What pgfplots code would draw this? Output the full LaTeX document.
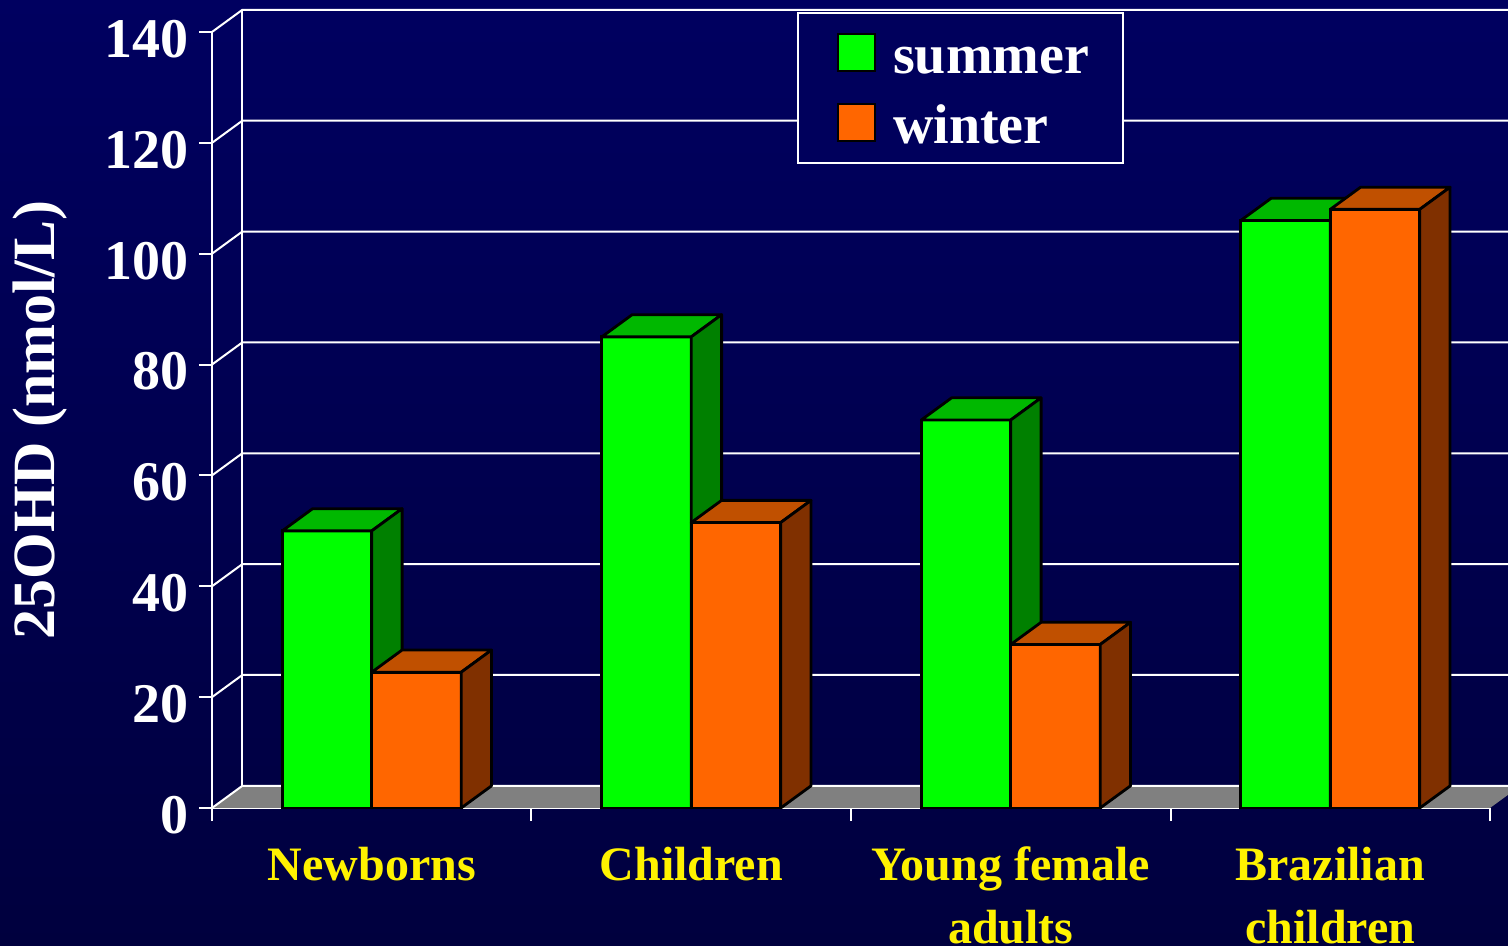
\documentclass[border=0pt]{standalone}
\usepackage{fontspec}
\setmainfont{Liberation Serif}
\usepackage{pgfplots}
\usepackage{pgfplotstable}
\pgfplotsset{compat=1.18}

\definecolor{bgtop}{RGB}{0,0,96}
\definecolor{bgmid}{RGB}{0,0,90}
\definecolor{bgbot}{RGB}{0,0,62}
\definecolor{navy}{RGB}{0,0,92}
\definecolor{gfront}{RGB}{0,255,0}
\definecolor{gtop}{RGB}{0,184,0}
\definecolor{gside}{RGB}{0,128,0}
\definecolor{ofront}{RGB}{255,102,0}
\definecolor{otop}{RGB}{192,80,0}
\definecolor{oside}{RGB}{128,48,0}
\definecolor{floorgray}{RGB}{128,128,128}

\pgfplotstableread{
x   summer winter
0.5 50     24.5
1.5 85     51.5
2.5 70     29.5
3.5 106    108
}\datatable

\def\bw{0.28}
\def\dx{0.095}
\def\dy{4}
\pgfmathsetmacro\xr{4+\dx}

% top and side faces of one series, values taken from the table
\newcommand\barfaces[4]{%
  \pgfplotsforeachungrouped \i in {0,1,2,3}{%
    \pgfplotstablegetelem{\i}{#1}\of\datatable
    \let\v\pgfplotsretval
    \pgfmathsetmacro\xa{\i+0.5+#2}%
    \pgfmathsetmacro\xb{\xa+\bw}%
    \pgfmathsetmacro\xc{\xa+\dx}%
    \pgfmathsetmacro\xd{\xb+\dx}%
    \pgfmathsetmacro\vt{\v+\dy}%
    \edef\next{%
      \noexpand\draw[fill=#3, line width=1.4pt, line join=round] (axis cs:\xa,\v) -- (axis cs:\xc,\vt) -- (axis cs:\xd,\vt) -- (axis cs:\xb,\v) -- cycle;
      \noexpand\draw[fill=#4, line width=1.4pt, line join=round] (axis cs:\xb,0) -- (axis cs:\xb,\v) -- (axis cs:\xd,\vt) -- (axis cs:\xd,\dy) -- cycle;
    }\next
  }}

\begin{document}
\begin{tikzpicture}
\useasboundingbox (-106pt,-69pt) rectangle (648pt,404pt);
\shade[top color=bgtop, middle color=bgmid, bottom color=bgbot] (-106pt,-69pt) rectangle (648pt,404pt);
\begin{axis}[
  at={(0pt,0pt)}, anchor=south west,
  scale only axis, width=639pt, height=388pt,
  xmin=0, xmax=4, ymin=0, ymax=140,
  clip=false,
  axis x line=bottom, axis y line=left,
  axis line style={white, line width=1pt, -},
  tick align=outside,
  major tick length=6.5pt,
  tick style={white, line width=1pt},
  ytick={0,20,...,140},
  xtick={0,1,2,3,4}, xticklabels={,,,,},
  extra x ticks={0.5,1.5,2.5,3.5},
  extra x tick labels={Newborns, Children, {Young female\\adults}, {Brazilian\\children}},
  extra x tick style={major tick length=0pt, tick style={draw=none}},
  xticklabel style={text=yellow, font=\fontsize{24}{31.5}\selectfont\bfseries, align=center, yshift=-16pt},
  /pgf/number format/assume math mode=true,
  yticklabel style={text=white, font=\fontsize{28}{32}\selectfont\bfseries, yshift=-3.5pt, inner xsep=5pt},
  ylabel={25OHD (nmol/L)},
  every axis y label/.style={at={(axis description cs:0,0.5)}, xshift=-86pt, rotate=90, anchor=center,
    text=white, font=\fontsize{30}{32}\selectfont\bfseries},
  legend style={at={(axis description cs:0.4577,1.0258)}, anchor=north west,
    draw=white, line width=0.8pt, fill=navy, text=white,
    font=\fontsize{28}{32}\selectfont\bfseries,
    inner xsep=17pt, inner ysep=9.75pt, row sep=14.5pt,
    nodes={inner sep=0pt, text height=20.5pt, text depth=0pt},
    /tikz/every odd column/.style={column sep=8.5pt}},
  legend cell align=left,
]
% floor, walls and grid
\fill[floorgray] (axis cs:0,0) -- (axis cs:4,0) -- (axis cs:\xr,\dy) -- (axis cs:\dx,\dy) -- cycle;
\pgfplotsforeachungrouped \y in {0,20,...,140}{%
  \pgfmathsetmacro\yb{\y+\dy}%
  \edef\next{\noexpand\draw[white, line width=1pt] (axis cs:0,\y) -- (axis cs:\dx,\yb) -- (axis cs:\xr,\yb);}\next
}
\draw[white, line width=1pt] (axis cs:\dx,\dy) -- (axis cs:\dx,144);

\addplot[ybar, bar width=\bw, bar shift=-0.14, fill=gfront, draw=black, line width=1.4pt,
  legend image code/.code={\path (0pt,0pt); \draw[fill=gfront, draw=black, line width=1pt] (2.5pt,-9pt) rectangle (21pt,9.5pt);}]
  table[x=x, y=summer]{\datatable};
\addlegendentry{summer}
\barfaces{summer}{-0.28}{gtop}{gside}

\addplot[ybar, bar width=\bw, bar shift=0.14, fill=ofront, draw=black, line width=1.4pt,
  legend image code/.code={\path (0pt,0pt); \draw[fill=ofront, draw=black, line width=1pt] (2.5pt,-9pt) rectangle (21pt,9.5pt);}]
  table[x=x, y=winter]{\datatable};
\addlegendentry{winter}
\barfaces{winter}{0}{otop}{oside}
\end{axis}
\end{tikzpicture}
\end{document}
